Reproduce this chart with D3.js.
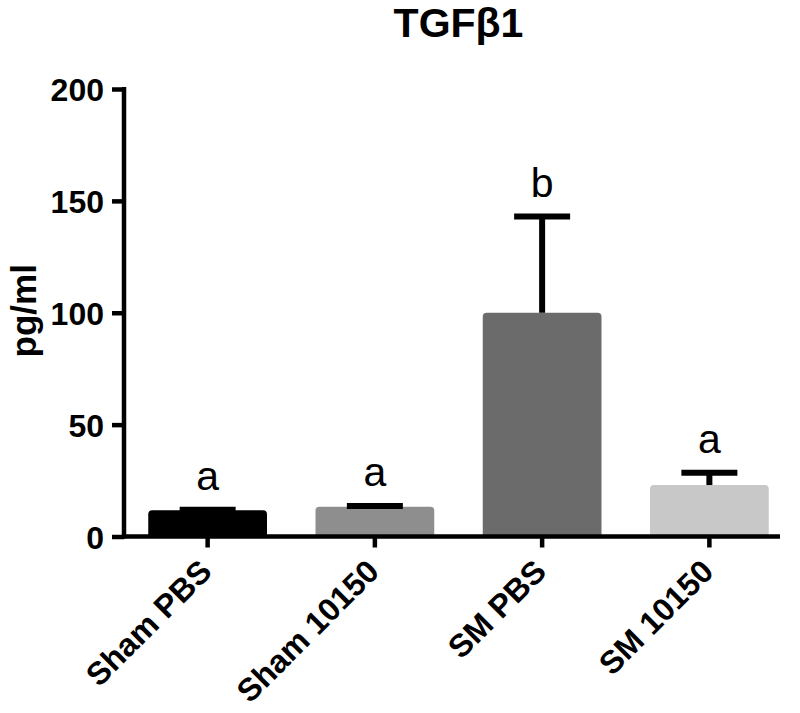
<!DOCTYPE html>
<html>
<head>
<meta charset="utf-8">
<script src="https://cdn.jsdelivr.net/npm/d3@7"></script>
<style>
  html, body { margin: 0; padding: 0; background: #fff; }
  svg { display: block; font-family: "Liberation Sans", Arial, sans-serif; }
</style>
</head>
<body>
<svg id="chart" width="800" height="713"></svg>
<script>
// ---- data ----
const categories = ["Sham PBS", "Sham 10150", "SM PBS", "SM 10150"];
const means = [11.7, 13.3, 100, 23];
const sems = [0.3, 0.3, 43, 5.5];
const letters = ["a", "a", "b", "a"];
const barColors = ["#000000", "#8e8e8e", "#6b6b6b", "#c8c8c8"];
const yTicks = [0, 50, 100, 150, 200];
const titleText = "TGFβ1";
const yTitle = "pg/ml";

// ---- layout ----
const svg = d3.select("#chart");
const x0 = 124, x1 = 793, xAxisEnd = 780;
const yBottom = 536.5, yTop = 89;

const x = d3.scaleBand().domain(categories).range([x0, x1])
  .paddingInner(0.29).paddingOuter(0.145);
const y = d3.scaleLinear().domain([0, 200]).range([yBottom, yTop]);

// title
svg.append("text")
  .attr("x", (x0 + x1) / 2).attr("y", 37)
  .attr("text-anchor", "middle")
  .attr("font-size", 41).attr("font-weight", "bold")
  .text(titleText);

// y axis title
svg.append("text")
  .attr("transform", `translate(36, ${(yTop + yBottom) / 2 - 2}) rotate(-90)`)
  .attr("text-anchor", "middle")
  .attr("font-size", 35).attr("font-weight", "bold")
  .text(yTitle);

// bars
const n = categories.length;
const rows = d3.range(n).map(i => ({ c: categories[i], m: means[i], s: sems[i], l: letters[i], col: barColors[i] }));

svg.append("g").selectAll("path.bar").data(rows).enter().append("path")
  .attr("class", "bar")
  .attr("fill", d => d.col)
  .attr("d", d => {
    const bx = x(d.c), bw = x.bandwidth(), top = y(d.m), bot = y(0);
    const r = Math.min(4, (bot - top) / 2);
    return `M${bx},${bot} L${bx},${top + r} Q${bx},${top} ${bx + r},${top} L${bx + bw - r},${top} Q${bx + bw},${top} ${bx + bw},${top + r} L${bx + bw},${bot} Z`;
  });

// error bars (upper only)
const capW = 56;
const eg = svg.append("g").attr("stroke", "#000").attr("stroke-width", 6);
eg.selectAll("line.stem").data(rows).enter().append("line")
  .attr("x1", d => x(d.c) + x.bandwidth() / 2)
  .attr("x2", d => x(d.c) + x.bandwidth() / 2)
  .attr("y1", d => y(d.m))
  .attr("y2", d => y(d.m + d.s));
eg.selectAll("line.cap").data(rows).enter().append("line")
  .attr("x1", d => x(d.c) + x.bandwidth() / 2 - capW / 2)
  .attr("x2", d => x(d.c) + x.bandwidth() / 2 + capW / 2)
  .attr("y1", d => y(d.m + d.s))
  .attr("y2", d => y(d.m + d.s));

// significance letters
svg.append("g").selectAll("text").data(rows).enter().append("text")
  .attr("x", d => x(d.c) + x.bandwidth() / 2)
  .attr("y", d => y(d.m + d.s) - 20)
  .attr("text-anchor", "middle")
  .attr("font-size", 41)
  .text(d => d.l);

// y axis
const yAxis = d3.axisLeft(y).tickValues(yTicks).tickSize(12).tickPadding(8).tickSizeOuter(0);
const gy = svg.append("g").attr("transform", `translate(${x0},0)`).call(yAxis);
gy.select(".domain").attr("stroke", "#000").attr("stroke-width", 4.5)
  .attr("d", `M0,${yTop - 2}V${yBottom + 2}`);
gy.selectAll(".tick line").attr("stroke", "#000").attr("stroke-width", 4.5);
gy.selectAll(".tick text")
  .attr("font-size", 32).attr("font-weight", "bold")
  .attr("font-family", "Liberation Sans, Arial, sans-serif")
  .attr("fill", "#000").attr("dy", "0.36em");

// x axis
const xAxis = d3.axisBottom(x).tickSize(11).tickSizeOuter(0).tickFormat("");
const gx = svg.append("g").attr("transform", `translate(0,${yBottom})`).call(xAxis);
gx.select(".domain").attr("stroke", "#000").attr("stroke-width", 4.5)
  .attr("d", `M${x0 - 2},0H${xAxisEnd}`);
gx.selectAll(".tick line").attr("stroke", "#000").attr("stroke-width", 4.5);

// x labels rotated
svg.append("g").selectAll("text").data(categories).enter().append("text")
  .attr("transform", d => `translate(${x(d) + x.bandwidth() / 2 + 6}, ${yBottom + 37}) rotate(-45)`)
  .attr("text-anchor", "end")
  .attr("font-size", 32).attr("font-weight", "bold")
  .text(d => d);
</script>
</body>
</html>
